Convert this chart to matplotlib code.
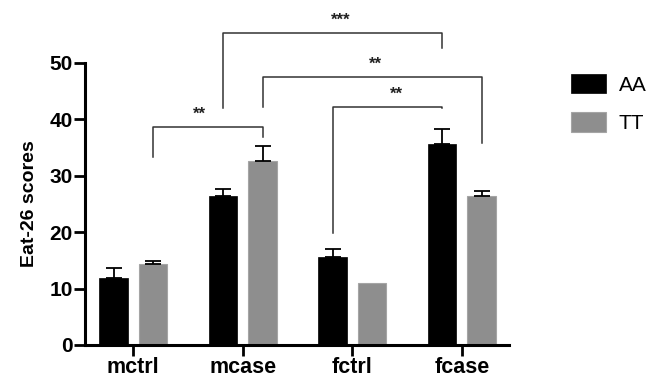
import numpy as np
import matplotlib.pyplot as plt

plt.rcParams['font.family'] = ['Liberation Sans', 'DejaVu Sans']

groups = ['mctrl', 'mcase', 'fctrl', 'fcase']
aa_mean = [11.9, 26.4, 15.6, 35.6]
aa_err = [1.7, 1.2, 1.4, 2.7]
tt_mean = [14.3, 32.6, 11.0, 26.4]
tt_err = [0.6, 2.6, 0.0, 0.9]
yticks = [0, 10, 20, 30, 40, 50]

# brackets: (group, series) start, (group, series) end, left foot, top, right foot, label, label x
brackets = [
    ((0, 1), (1, 1), 33.3, 38.7, 36.8, '**', 0.60),
    ((1, 0), (3, 0), 41.9, 55.3, 52.6, '***', 1.89),
    ((1, 1), (3, 1), 42.1, 47.5, 35.7, '**', 2.21),
    ((2, 0), (3, 0), 19.9, 42.1, 41.9, '**', 2.40),
]

off = 0.18
w = 0.26
x = np.arange(len(groups))

fig = plt.figure(figsize=(6.51, 3.81), dpi=100)
ax = fig.add_axes([0.1306, 0.0945, 0.6514, 0.7409])

ax.bar(x - off, aa_mean, w, color='black', edgecolor='black', linewidth=0.5, label='AA')
ax.bar(x + off, tt_mean, w, color='#8e8e8e', edgecolor='#a5a5a5', linewidth=0.8, label='TT')
ax.errorbar(x - off, aa_mean, yerr=[np.zeros(4), aa_err], fmt='none', ecolor='black',
            elinewidth=1.3, capsize=5.5, capthick=1.3)
tt_up = np.array(tt_err)
mask = tt_up > 0
ax.errorbar((x + off)[mask], np.array(tt_mean)[mask], yerr=[np.zeros(mask.sum()), tt_up[mask]],
            fmt='none', ecolor='black', elinewidth=1.3, capsize=5.5, capthick=1.3)

for (g1, s1), (g2, s2), yl, yt, yr, lab, lx in brackets:
    x1 = g1 + (off if s1 else -off)
    x2 = g2 + (off if s2 else -off)
    ax.plot([x1, x1, x2, x2], [yl, yt, yt, yr], color='#333333', lw=1.1, clip_on=False)
    ax.text(lx, yt + 0.9, lab, ha='center', va='bottom', fontsize=12, fontweight='bold',
            color='#222222', clip_on=False)

ax.set_xlim(-0.44, 3.43)
ax.set_ylim(0, 50)
ax.set_yticks(yticks)
ax.set_xticks(x)
ax.set_xticklabels(groups, fontsize=15.5, fontweight='bold')
for t in ax.get_yticklabels():
    t.set_fontsize(15)
    t.set_fontweight('bold')
ax.set_ylabel('Eat-26 scores', fontsize=14, fontweight='bold', labelpad=8)

for s in ['top', 'right']:
    ax.spines[s].set_visible(False)
for s in ['left', 'bottom']:
    ax.spines[s].set_linewidth(2.2)
ax.tick_params(axis='both', width=2.0, length=8, direction='out', pad=1)

ax.legend(loc='upper left', bbox_to_anchor=(1.127, 0.99), frameon=False, fontsize=15,
          handlelength=1.68, handleheight=1.06, labelspacing=0.84, handletextpad=0.6,
          borderaxespad=0)

fig.savefig('out.png', dpi=100)
